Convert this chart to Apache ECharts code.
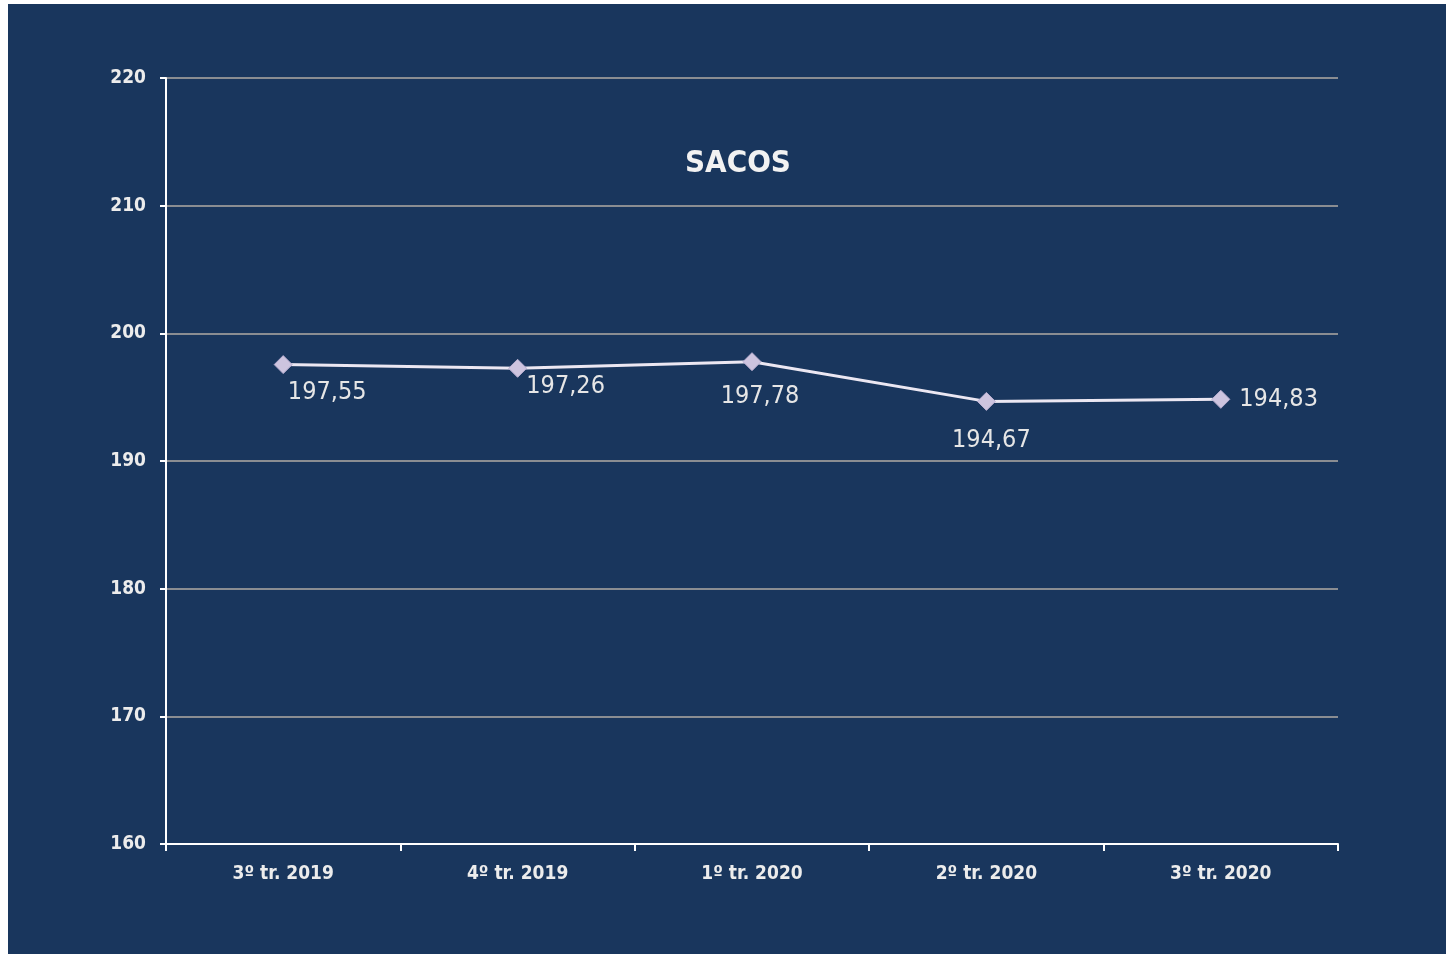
<!DOCTYPE html>
<html><head><meta charset="utf-8">
<script src="https://cdn.jsdelivr.net/npm/echarts@6/dist/echarts.min.js"></script>
<style>html,body{margin:0;padding:0;background:#fff;}#wrap{position:absolute;left:8px;top:4px;right:0;bottom:0;background:#19365d;}#c{position:absolute;left:0;top:0;width:1446px;height:954px;}</style>
</head><body><div id="wrap"></div><div id="c"></div>
<script>
const categories = ['3º tr. 2019', '4º tr. 2019', '1º tr. 2020', '2º tr. 2020', '3º tr. 2020'];
const values = [197.55, 197.26, 197.78, 194.67, 194.83];
const yTicks = [160, 170, 180, 190, 200, 210, 220];
const title = 'SACOS';

const labelLayout = [
  {position: 'bottom', offset: [44, 1]},
  {position: 'bottom', offset: [48, -9]},
  {position: 'bottom', offset: [8, 8]},
  {position: 'bottom', offset: [5, 12]},
  {position: 'right', offset: [4, 0]}
];
const font = "'DejaVu Sans Condensed', 'Liberation Sans Narrow', 'Roboto', sans-serif";

const chart = echarts.init(document.getElementById('c'));
chart.setOption({
  backgroundColor: 'transparent',
  animation: false,
  title: {
    text: title, left: 680, top: 143,
    textStyle: {color: '#f2f2f2', fontSize: 31, fontWeight: 'bold', fontFamily: font}
  },
  grid: {left: 166, right: 108, top: 78, bottom: 110, containLabel: false},
  xAxis: {
    type: 'category', data: categories, boundaryGap: true,
    axisLine: {lineStyle: {color: '#ffffff', width: 2}},
    axisTick: {show: true, length: 7, lineStyle: {color: '#ffffff', width: 2}},
    axisLabel: {color: '#ececec', fontSize: 19, fontWeight: 'bold', fontFamily: font, margin: 21}
  },
  yAxis: {
    type: 'value', min: yTicks[0], max: yTicks[yTicks.length - 1], interval: 10,
    axisLine: {show: true, lineStyle: {color: '#ffffff', width: 2}},
    axisTick: {show: true, length: 6, lineStyle: {color: '#ffffff', width: 2}},
    axisLabel: {color: '#ececec', fontSize: 19, fontWeight: 'bold', fontFamily: font, margin: 20},
    splitLine: {show: true, lineStyle: {color: '#8a8d92', width: 2}}
  },
  series: [{
    type: 'line',
    data: values.map((v, i) => ({
      value: v,
      label: {show: true, position: labelLayout[i].position, offset: labelLayout[i].offset, distance: 5}
    })),
    symbol: 'diamond', symbolSize: 18,
    itemStyle: {color: '#cdc4df', borderColor: '#b8aed0', borderWidth: 1},
    lineStyle: {color: '#ebe7f2', width: 3},
    label: {
      color: '#e6e6e6', fontSize: 25, fontFamily: font,
      formatter: p => p.value.toFixed(2).replace('.', ',')
    }
  }]
});
</script></body></html>
